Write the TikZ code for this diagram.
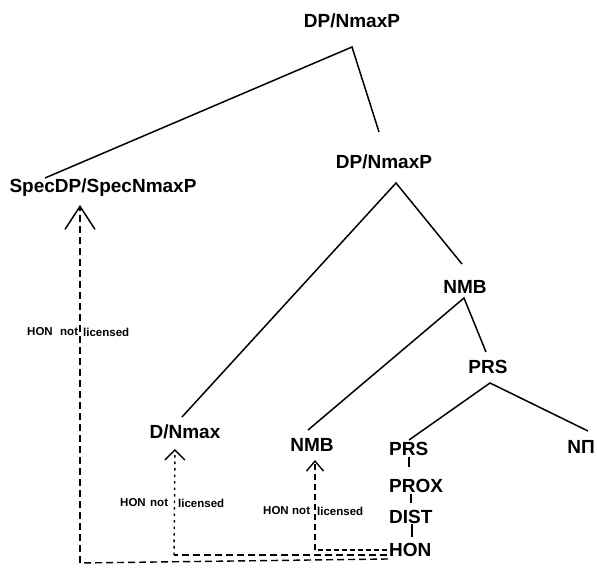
\documentclass[tikz,border=0pt]{standalone}
\usepackage{fontspec}
\setmainfont{Liberation Sans}
\usetikzlibrary{arrows.meta}
\begin{document}
\begin{tikzpicture}[x=1pt,y=-1pt,
  lbl/.style={inner sep=0pt,font=\bfseries\fontsize{19}{22}\selectfont},
  small/.style={inner sep=0pt,anchor=west,font=\bfseries\fontsize{11.5}{13}\selectfont},
  branch/.style={line width=1.5pt},
  dsh/.style={line width=1.4pt,dash pattern=on 7pt off 4pt},
  dts/.style={line width=1.4pt,dash pattern=on 2.5pt off 4pt}]
\useasboundingbox (0,0) rectangle (597,569);
% main labels
\node[lbl] (top) at (352,21) {DP/NmaxP};
\node[lbl] (dp2) at (384,162) {DP/NmaxP};
\node[lbl] (spec) at (103,188) {SpecDP/SpecNmaxP};
\node[lbl] (nmb) at (465,287) {NMB};
\node[lbl] (prs) at (488,367) {PRS};
\node[lbl] (dnmax) at (185,432) {D/Nmax};
\node[lbl] (nmb2) at (312,445) {NMB};
\node[lbl,anchor=west] (prs2) at (389,449) {PRS};
\node[lbl] (np) at (581,447) {NΠ};
\node[lbl,anchor=west] (prox) at (389,486) {PROX};
\node[lbl,anchor=west] (dist) at (389,517) {DIST};
\node[lbl,anchor=west] (hon) at (389,550) {HON};
% small labels
\node[small] (l1a) at (27,332) {HON};
\node[small] (l1b) at (60,332) {not};
\node[small] (l1c) at (83,332) {licensed};
\node[small] (l2a) at (120,503) {HON};
\node[small] (l2b) at (150,503) {not};
\node[small] (l2c) at (178,503) {licensed};
\node[small] (l3a) at (263,511) {HON};
\node[small] (l3b) at (292,511) {not};
\node[small] (l3c) at (317,511) {licensed};
% branch points
\coordinate (topA) at (352,47);
\coordinate (topL) at (45,178);
\coordinate (topR) at (379,132);
\coordinate (dpA) at (396,183);
\coordinate (dpL) at (182,417);
\coordinate (dpR) at (462,264);
\coordinate (nmbA) at (464,298);
\coordinate (nmbL) at (308,430);
\coordinate (nmbR) at (486,352);
\coordinate (prsA) at (490,383);
\coordinate (prsL) at (409,440);
\coordinate (prsR) at (588,431);
\draw[branch] (topL) -- (topA) -- (topR);
\draw[branch] (dpL) -- (dpA) -- (dpR);
\draw[branch] (nmbL) -- (nmbA) -- (nmbR);
\draw[branch] (prsL) -- (prsA) -- (prsR);
% stack ticks
\draw[branch] (409,457) -- (409,467);
\draw[branch] (411,494) -- (411,503);
\draw[branch] (412,524) -- (412,537);
% movement arrows
\coordinate (h1) at (388,559);
\coordinate (c1) at (80,563);
\coordinate (t1) at (80,205);
\coordinate (h2) at (387,555);
\coordinate (c2) at (174,555);
\coordinate (t2) at (175,449);
\coordinate (h3) at (387,550);
\coordinate (c3) at (315,550);
\coordinate (t3) at (315,460);
\draw[dsh] (h1) -- (c1);
\draw[dsh,-{Straight Barb[length=23pt,width=30pt,line width=1.5pt]}] (c1) -- (t1);
\draw[dsh] (h2) -- (c2);
\draw[dts,-{Straight Barb[length=10pt,width=20pt,line width=1.4pt]}] (c2) -- (t2);
\draw[dsh,dash pattern=on 5pt off 3pt] (h3) -- (c3);
\draw[dsh,dash pattern=on 6pt off 4pt,-{Straight Barb[length=10pt,width=17pt,line width=1.4pt]}] (c3) -- (t3);
\end{tikzpicture}
\end{document}
